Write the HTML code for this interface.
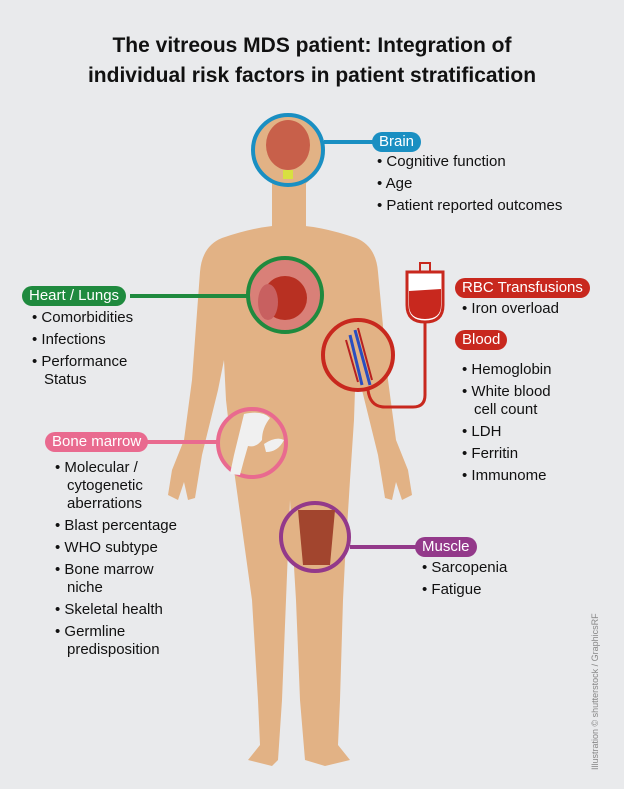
<!DOCTYPE html>
<html><head><meta charset="utf-8"><style>
body{margin:0;}
#c{position:relative;width:624px;height:789px;background:#e9eaec;overflow:hidden;font-family:"Liberation Sans",Arial,sans-serif;color:#111;}
.t{position:absolute;left:0;width:624px;text-align:center;font-weight:bold;font-size:21px;line-height:30px;top:31px;}
.pill{position:absolute;color:#fff;font-size:15px;line-height:20px;padding:0 7px;border-radius:10px;white-space:nowrap;}
.ls{position:absolute;font-size:15px;line-height:18px;margin:0;padding:0;list-style:none;white-space:nowrap;}
.ls li{padding-left:12px;text-indent:-12px;margin-bottom:4px;}
.ls li:before{content:"• ";}
.cr{position:absolute;left:590px;top:770px;transform:rotate(-90deg);transform-origin:0 0;font-size:9px;color:#888;white-space:nowrap;}
</style></head><body><div id="c">
<div class="t">The vitreous MDS patient: Integration of<br>individual risk factors in patient stratification</div>
<svg width="624" height="789" style="position:absolute;left:0;top:0">
<g fill="#e2b285">
<ellipse cx="289" cy="153" rx="30" ry="37"/>
<rect x="272" y="178" width="34" height="55"/>
<path d="M222 238 Q260 225 289 225 Q318 225 356 238 Q376 246 378 272 L388 380 L396 440 L408 470 L412 495 L402 500 L396 482 L392 500 L385 498 L378 455 L362 390 L356 360 L354 420 L350 480 L345 560 L343 600 L340 700 L338 745 L350 760 L325 766 L305 760 L300 700 L296 600 L290 500 L286 600 L282 700 L278 760 L272 766 L248 760 L260 745 L258 700 L252 600 L234 470 L226 400 L224 360 L218 390 L202 455 L195 498 L188 500 L184 482 L178 500 L168 495 L172 470 L184 440 L192 380 L200 272 Q202 246 222 238Z"/>
</g>
<g stroke-width="4" fill="none">
<line x1="324" y1="142" x2="374" y2="142" stroke="#1a8fc2"/>
<circle cx="288" cy="150" r="35" stroke="#1a8fc2" fill="#e2b285"/>
<line x1="130" y1="296" x2="250" y2="296" stroke="#1f8a3e"/>
<circle cx="285" cy="295" r="37" stroke="#1f8a3e" fill="#d98078"/>
<line x1="140" y1="442" x2="218" y2="442" stroke="#e96a8f"/>
<circle cx="252" cy="443" r="34" stroke="#e96a8f" fill="#e2b285"/>
<line x1="350" y1="547" x2="420" y2="547" stroke="#93398a"/>
<circle cx="315" cy="537" r="34" stroke="#93398a" fill="#e2b285"/>
<path d="M425 322 L425 395 Q425 407 413 407 L385 407 Q370 407 368 390" stroke="#c8281e" stroke-width="3"/>
<circle cx="358" cy="355" r="35" stroke="#c8281e" fill="#e2b285"/>
</g>
<ellipse cx="288" cy="145" rx="22" ry="25" fill="#c8604a"/>
<rect x="283" y="170" width="10" height="9" fill="#d8e040"/>
<ellipse cx="285" cy="298" rx="22" ry="22" fill="#b83022"/>
<ellipse cx="268" cy="302" rx="10" ry="18" fill="#c86060"/>
<path d="M244 414 Q262 410 270 418 Q262 428 262 440 Q256 448 248 446 L244 460 L240 475 L230 474 L234 455 Z" fill="#f0f0f0"/>
<path d="M264 444 Q276 436 284 440 Q278 452 266 452Z" fill="#f0f0f0"/>
<path d="M298 510 L335 510 L330 565 L303 565Z" fill="#a2452e"/>
<path d="M355 330 L370 385 M350 335 L362 385" stroke="#2a4ec0" stroke-width="3"/>
<path d="M358 328 L372 380 M346 340 L358 382" stroke="#b82020" stroke-width="2"/>
<path d="M407 272 L443 272 L443 305 Q443 322 425 322 Q407 322 407 305Z" fill="#fff" stroke="#c8281e" stroke-width="3"/>
<path d="M409 291 L441 289 L441 305 Q441 319 425 319 Q409 319 409 305Z" fill="#c8281e"/>
<rect x="420" y="263" width="10" height="9" fill="none" stroke="#c8281e" stroke-width="2"/>
</svg>
<div class="pill" style="left:372px;top:132px;background:#1a8fc2">Brain</div>
<ul class="ls" style="left:377px;top:153px"><li>Cognitive function</li><li>Age</li><li>Patient reported outcomes</li></ul>
<div class="pill" style="left:22px;top:286px;background:#1f8a3e">Heart / Lungs</div>
<ul class="ls" style="left:32px;top:309px"><li>Comorbidities</li><li>Infections</li><li>Performance<br>Status</li></ul>
<div class="pill" style="left:455px;top:278px;background:#c8281e">RBC Transfusions</div>
<ul class="ls" style="left:462px;top:300px"><li>Iron overload</li></ul>
<div class="pill" style="left:455px;top:330px;background:#c8281e">Blood</div>
<ul class="ls" style="left:462px;top:361px"><li>Hemoglobin</li><li>White blood<br>cell count</li><li>LDH</li><li>Ferritin</li><li>Immunome</li></ul>
<div class="pill" style="left:45px;top:432px;background:#e96a8f">Bone marrow</div>
<ul class="ls" style="left:55px;top:459px"><li>Molecular /<br>cytogenetic<br>aberrations</li><li>Blast percentage</li><li>WHO subtype</li><li>Bone marrow<br>niche</li><li>Skeletal health</li><li>Germline<br>predisposition</li></ul>
<div class="pill" style="left:415px;top:537px;background:#93398a">Muscle</div>
<ul class="ls" style="left:422px;top:559px"><li>Sarcopenia</li><li>Fatigue</li></ul>
<div class="cr">Illustration © shutterstock / GraphicsRF</div>
</div></body></html>
